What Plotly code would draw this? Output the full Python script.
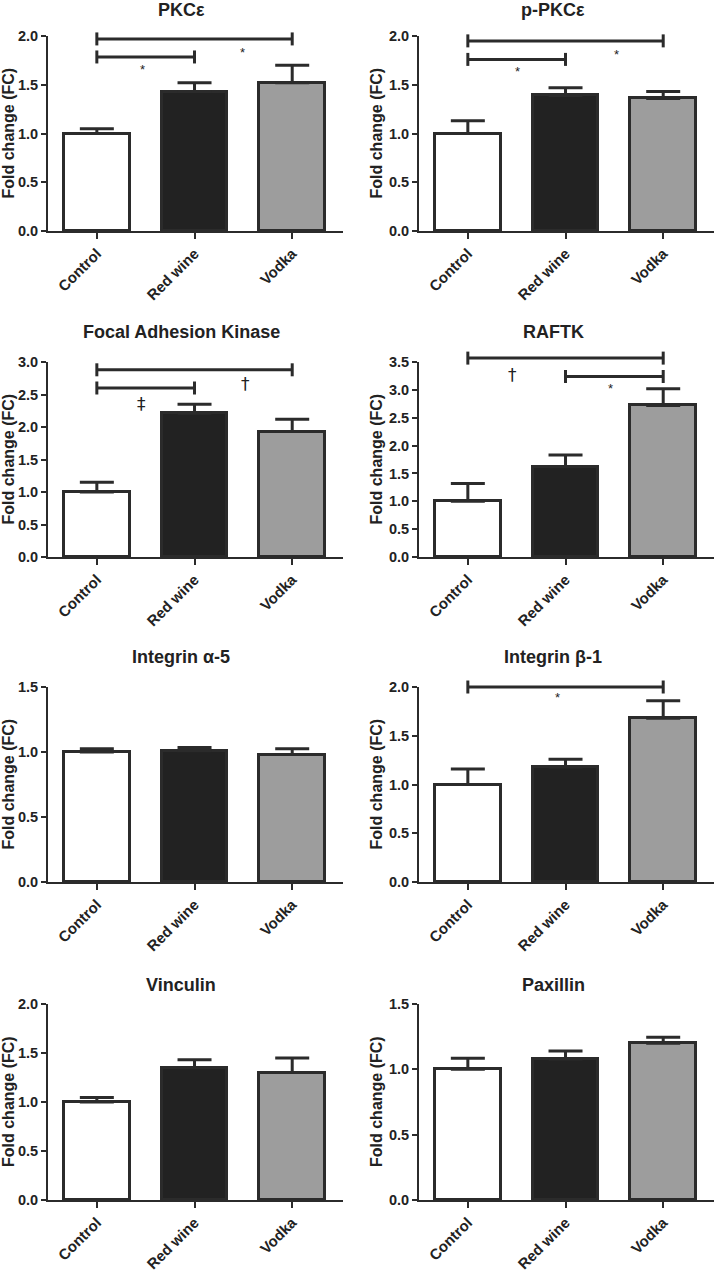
import plotly.graph_objects as go
from plotly.subplots import make_subplots

# ---------------- data ----------------
categories = ["Control", "Red wine", "Vodka"]
bar_colors = ["#ffffff", "#222222", "#9d9d9d"]

titles = ["PKCε", "p-PKCε", "Focal Adhesion Kinase", "RAFTK",
          "Integrin α-5", "Integrin β-1", "Vinculin", "Paxillin"]

pkce_mean = [1.00, 1.43, 1.52]
pkce_err = [0.05, 0.09, 0.18]
ppkce_mean = [1.00, 1.39, 1.36]
ppkce_err = [0.13, 0.08, 0.07]
fak_mean = [1.00, 2.21, 1.93]
fak_err = [0.15, 0.14, 0.19]
raftk_mean = [1.00, 1.62, 2.72]
raftk_err = [0.32, 0.21, 0.30]
ita5_mean = [1.00, 1.01, 0.98]
ita5_err = [0.025, 0.025, 0.045]
itb1_mean = [1.00, 1.18, 1.68]
itb1_err = [0.16, 0.08, 0.18]
vinc_mean = [1.00, 1.35, 1.30]
vinc_err = [0.045, 0.08, 0.15]
pax_mean = [1.00, 1.08, 1.20]
pax_err = [0.085, 0.06, 0.045]

y_max = [2.0, 2.0, 3.0, 3.5, 1.5, 2.0, 2.0, 1.5]

# significance brackets: (from category, to category, height)
pkce_brackets = [(0, 2, 1.97), (0, 1, 1.785)]
ppkce_brackets = [(0, 2, 1.95), (0, 1, 1.76)]
fak_brackets = [(0, 2, 2.88), (0, 1, 2.60)]
raftk_brackets = [(0, 2, 3.57), (1, 2, 3.24)]
itb1_brackets = [(0, 2, 2.0)]

# significance labels: (symbol, x position, y position)
pkce_labels = [("*", 0.47, 1.66), ("*", 1.49, 1.83)]
ppkce_labels = [("*", 0.51, 1.64), ("*", 1.52, 1.81)]
fak_labels = [("‡", 0.46, 2.36), ("†", 1.52, 2.66)]
raftk_labels = [("†", 0.46, 3.27), ("*", 1.46, 3.03)]
itb1_labels = [("*", 0.92, 1.89)]

panels = [
    dict(mean=pkce_mean, err=pkce_err, br=pkce_brackets, lab=pkce_labels),
    dict(mean=ppkce_mean, err=ppkce_err, br=ppkce_brackets, lab=ppkce_labels),
    dict(mean=fak_mean, err=fak_err, br=fak_brackets, lab=fak_labels),
    dict(mean=raftk_mean, err=raftk_err, br=raftk_brackets, lab=raftk_labels),
    dict(mean=ita5_mean, err=ita5_err, br=[], lab=[]),
    dict(mean=itb1_mean, err=itb1_err, br=itb1_brackets, lab=itb1_labels),
    dict(mean=vinc_mean, err=vinc_err, br=[], lab=[]),
    dict(mean=pax_mean, err=pax_err, br=[], lab=[]),
]

# ---------------- layout constants ----------------
W, H = 714, 1271
EDGE = "#2b2b2b"
TXT = "#222222"
FONT = "Liberation Sans, Arial, sans-serif"
SYMFONT = "DejaVu Sans, Liberation Sans, sans-serif"

col_px = [(48, 343), (419, 714)]
row_px = [(36, 231), (362, 557), (687, 882), (1004, 1200)]
title_x_px = [181, 553]
title_y_px = [10, 332, 657, 985]
ytitle_x_px = [8, 376]

fig = make_subplots(rows=4, cols=2)

annotations = []
shapes = []
for i, p in enumerate(panels):
    r, c = i // 2, i % 2
    n = i + 1
    sfx = "" if n == 1 else str(n)
    fig.add_trace(go.Bar(
        x=[0, 1, 2], y=p["mean"], width=0.67,
        marker=dict(color=bar_colors, line=dict(color=EDGE, width=3)),
        error_y=dict(type="data", symmetric=False, array=p["err"],
                     arrayminus=[0, 0, 0], thickness=3, width=17, color=EDGE),
        showlegend=False, hoverinfo="skip"), row=r + 1, col=c + 1)
    # significance brackets (y given as fraction of the axis range so they
    # are not clipped when slightly above the top of the axis)
    for (a, b, h) in p["br"]:
        hd = h / y_max[i]
        shapes.append(dict(type="line", xref=f"x{sfx}", yref=f"y{sfx} domain",
                           x0=a, x1=b, y0=hd, y1=hd,
                           line=dict(color=EDGE, width=3)))
        for xe in (a, b):
            shapes.append(dict(type="line", xref=f"x{sfx}", yref=f"y{sfx} domain",
                               x0=xe, x1=xe, ysizemode="pixel", yanchor=hd,
                               y0=-6.5, y1=6.5, line=dict(color=EDGE, width=3)))
    for (s, lx, ly) in p["lab"]:
        big = s != "*"
        annotations.append(dict(
            x=lx, y=ly / y_max[i], xref=f"x{sfx}", yref=f"y{sfx} domain",
            text=s, showarrow=False,
            font=dict(family=SYMFONT if big else FONT, size=17 if big else 13,
                      color=TXT),
            xanchor="center", yanchor="middle"))
    # title
    annotations.append(dict(
        x=title_x_px[c] / W, y=1 - title_y_px[r] / H, xref="paper", yref="paper",
        text=titles[i], showarrow=False, xanchor="center", yanchor="middle",
        font=dict(family=FONT, size=18, color=TXT, weight="bold")))
    # y axis title
    annotations.append(dict(
        x=ytitle_x_px[c] / W, y=0.5, xref="paper", yref=f"y{sfx} domain",
        text="Fold change (FC)", textangle=-90, showarrow=False,
        xanchor="center", yanchor="middle", borderpad=0,
        font=dict(family=FONT, size=16, color=TXT, weight="bold")))

    x0, x1 = col_px[c]
    yt, yb = row_px[r]
    fig.update_xaxes(
        domain=[x0 / W, x1 / W], range=[-0.5, 2.52],
        tickvals=[0, 1, 2], ticktext=categories, tickangle=-45,
        ticks="outside", ticklen=6, tickwidth=2, tickcolor=EDGE,
        showline=True, linewidth=2, linecolor=EDGE,
        showgrid=False, zeroline=False, automargin=False,
        tickfont=dict(family=FONT, size=15, color=TXT, weight="bold"),
        row=r + 1, col=c + 1)
    fig.update_yaxes(
        domain=[1 - yb / H, 1 - yt / H], range=[0, y_max[i]],
        dtick=0.5, tick0=0, tickformat=".1f",
        ticks="outside", ticklen=5, tickwidth=2, tickcolor=EDGE,
        showline=True, linewidth=2, linecolor=EDGE,
        showgrid=False, zeroline=False, automargin=False,
        tickfont=dict(family=FONT, size=14.5, color=TXT, weight="bold"),
        row=r + 1, col=c + 1)

fig.update_layout(
    width=W, height=H, margin=dict(l=0, r=0, t=0, b=0),
    plot_bgcolor="white", paper_bgcolor="white",
    annotations=annotations, shapes=shapes, bargap=0, showlegend=False,
    font=dict(family=FONT, color=TXT),
)

fig.write_html("out.html", config={"displayModeBar": False},
               post_script="document.body.style.margin='0';"
                           "document.body.style.overflow='hidden';")
